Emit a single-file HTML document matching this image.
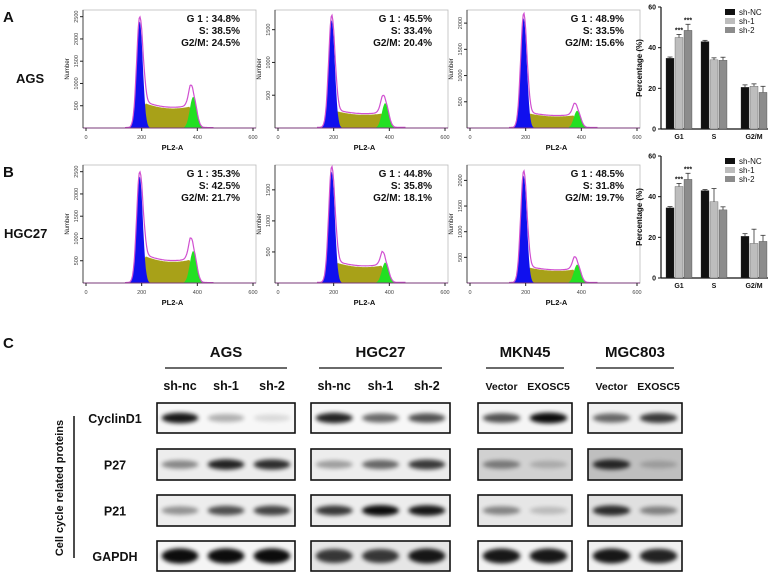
<!DOCTYPE html>
<html><head><meta charset="utf-8"><style>
body{margin:0;background:#fff}
svg{display:block;font-family:"Liberation Sans",Arial,sans-serif}
</style></head><body>
<svg id="fig" width="776" height="576" viewBox="0 0 776 576">
<defs>
<filter id="blur2" x="-50%" y="-100%" width="200%" height="300%"><feGaussianBlur stdDeviation="2.2"/></filter>
</defs>
<g id="root"></g>
</svg>
<script>
// ---------- data ----------
const flowRows = ["AGS","HGC27"];
const g1Pct = ["34.8%","45.5%","48.9%","35.3%","44.8%","48.5%"];
const sPct  = ["38.5%","33.4%","33.5%","42.5%","35.8%","31.8%"];
const g2Pct = ["24.5%","20.4%","15.6%","21.7%","18.1%","19.7%"];
const g1Peak = [2400,1650,2100,2400,1800,2100];
const sLevel = [480,220,240,520,280,260];
const g2Peak = [700,380,330,720,330,360];
const yMaxes = [2650,1800,2250,2650,1900,2300];
const yTickSets = [[500,1000,1500,2000,2500],[500,1000,1500],[500,1000,1500,2000],[500,1000,1500,2000,2500],[500,1000,1500],[500,1000,1500,2000]];
const xTicks = [0,200,400,600];

const barCats = ["G1","S","G2/M"];
const barSeries = ["sh-NC","sh-1","sh-2"];
const barColors = ["#111","#bdbdbd","#8c8c8c"];
const barA_NC = [34.8,43,20.5], barA_1 = [45,34,21], barA_2 = [48.5,33.8,18];
const errA_NC = [0.6,0.6,1.2], errA_1 = [1.5,1,1.2], errA_2 = [3,1.5,3];
const barB_NC = [34.5,43,20.5], barB_1 = [45,37.5,17], barB_2 = [48.5,33.5,18];
const errB_NC = [0.6,0.5,1.3], errB_1 = [1.5,6.5,7], errB_2 = [3,1.5,3];
const barTicks = [0,20,40,60];

const blotProteins = ["CyclinD1","P27","P21","GAPDH"];
const blotGroups = ["AGS","HGC27","MKN45","MGC803"];
const blotLanes = [["sh-nc","sh-1","sh-2"],["sh-nc","sh-1","sh-2"],["Vector","EXOSC5"],["Vector","EXOSC5"]];
const bandInt = [
 [[0.95,0.3,0.12],[0.45,0.9,0.85],[0.4,0.7,0.75],[1,1,1]],
 [[0.9,0.6,0.7],[0.35,0.6,0.8],[0.8,1,0.95],[0.8,0.8,0.95]],
 [[0.7,1],[0.45,0.2],[0.45,0.2],[0.95,0.95]],
 [[0.6,0.8],[0.85,0.2],[0.85,0.45],[0.95,0.9]]
];
const bgGray = [
 [0.97,0.93,0.93,0.96],
 [0.97,0.93,0.93,0.9],
 [0.96,0.82,0.9,0.95],
 [0.94,0.75,0.88,0.94]
];

// ---------- helpers ----------
const NS="http://www.w3.org/2000/svg";
const root=document.getElementById('root');
function el(tag,attrs,parent,text){const e=document.createElementNS(NS,tag);for(const k in attrs)e.setAttribute(k,attrs[k]);if(text!==undefined)e.textContent=text;(parent||root).appendChild(e);return e;}
function txt(x,y,s,size,opts,parent,name){const a=Object.assign({x:x,y:y,'font-size':size,fill:'#111'},opts||{});const t=el('text',a,parent,s);return t;}

txt(3,22,"A",15,{'font-weight':'bold'},null,'panel-label-a');
txt(3,177,"B",15,{'font-weight':'bold'},null,'panel-label-b');
txt(3,348,"C",15,{'font-weight':'bold'},null,'panel-label-c');
txt(16,83,"AGS",13,{'font-weight':'bold'},null,'row-label-ags');
txt(4,238,"HGC27",13,{'font-weight':'bold'},null,'row-label-hgc27');

// ---------- flow histograms ----------
function flowPanel(idx){
  const row=Math.floor(idx/3), col=idx%3;
  const x0=86+192*col, xw=167, top=row?165:10, yb=row?283:128;
  const g=el('g',{});
  
  
  const sx=v=>x0+v/600*xw, H=yb-top, sy=v=>yb-v/yMaxes[idx]*H;
  el('rect',{x:x0-3,y:top,width:xw+6,height:H,fill:'none',stroke:'#bbb','stroke-width':0.8},g);
  const G1=g1Peak[idx],S=sLevel[idx],G2=g2Peak[idx];
  const pts=[];
  for(let v=140;v<=460;v+=3){
    const b=G1*Math.exp(-Math.pow((v-193)/11,2)/2);
    let s=0; if(v>195&&v<388){const t=(v-195)/193; s=S*(1.25-1.1*t+0.9*t*t)*Math.min(1,(v-195)/18)*Math.min(1,(388-v)/15);}
    const gr=G2*Math.exp(-Math.pow((v-385)/12,2)/2);
    pts.push([v,b,s,gr]);
  }
  let d='M'+sx(195)+','+yb; pts.forEach(p=>{if(p[0]>=195&&p[0]<=390)d+=' L'+sx(p[0]).toFixed(1)+','+sy(p[2]).toFixed(1);}); d+=' L'+sx(390)+','+yb+'Z';
  el('path',{d:d,fill:'#a8a118',stroke:'none'},g);
  d='M'+sx(340)+','+yb; pts.forEach(p=>{if(p[0]>=340)d+=' L'+sx(p[0]).toFixed(1)+','+sy(p[3]).toFixed(1);}); d+=' L'+sx(460)+','+yb+'Z';
  el('path',{d:d,fill:'#22e022'},g);
  d='M'+sx(140)+','+yb; pts.forEach(p=>{if(p[0]<=240)d+=' L'+sx(p[0]).toFixed(1)+','+sy(p[1]).toFixed(1);}); d+=' L'+sx(240)+','+yb+'Z';
  el('path',{d:d,fill:'#1010ee'},g);
  d=''; pts.forEach((p,i)=>{d+=(i?' L':'M')+sx(p[0]).toFixed(1)+','+sy((p[1]+p[2]+p[3])*1.04+10).toFixed(1);});
  el('path',{d:d,fill:'none',stroke:'#d050d0','stroke-width':1.2},g);
  el('line',{x1:x0-3,y1:yb,x2:x0+xw+3,y2:yb,stroke:'#d050d0','stroke-width':1},g);
  el('line',{x1:x0-3,y1:top,x2:x0-3,y2:yb,stroke:'#222','stroke-width':0.8},g);
  el('line',{x1:x0-3,y1:yb,x2:x0+xw+3,y2:yb,stroke:'#222','stroke-width':0.6},g);
  xTicks.forEach(v=>{el('line',{x1:sx(v),y1:yb,x2:sx(v),y2:yb+3,stroke:'#222'},g);txt(sx(v),yb+11,String(v),5.5,{'text-anchor':'middle',fill:'#444'},g,'x-tick-label');});
  yTickSets[idx].forEach(v=>{el('line',{x1:x0-6,y1:sy(v),x2:x0-3,y2:sy(v),stroke:'#222'},g);txt(0,0,String(v),5.5,{'text-anchor':'middle',fill:'#444',transform:`translate(${x0-8},${sy(v)}) rotate(-90)`},g,'y-tick-label');});
  txt(0,0,"Number",6,{'text-anchor':'middle',transform:`translate(${x0-17},${(top+yb)/2}) rotate(-90)`},g,'y-axis-title');
  txt(x0+xw/2+3,yb+22,"PL2-A",7.5,{'text-anchor':'middle','font-weight':'bold'},g,'x-axis-title');
  const rx=x0+154;
  txt(rx,top+12,"G 1 : "+g1Pct[idx],10,{'text-anchor':'end','font-weight':'bold'},g,'g1-percentage');
  txt(rx,top+24,"S: "+sPct[idx],10,{'text-anchor':'end','font-weight':'bold'},g,'s-percentage');
  txt(rx,top+36,"G2/M:  "+g2Pct[idx],10,{'text-anchor':'end','font-weight':'bold'},g,'g2m-percentage');
}
for(let i=0;i<6;i++)flowPanel(i);

// ---------- bar charts ----------
function barChart(name,y0,y60,vals,errs){
  const g=el('g',{});
  
  
  const ax=661, sy=v=>y0-(v/60)*(y0-y60);
  const catX=[679,714,754], bw=8;
  el('line',{x1:ax,y1:y60,x2:ax,y2:y0,stroke:'#111','stroke-width':1.2},g);
  el('line',{x1:ax,y1:y0,x2:768,y2:y0,stroke:'#111','stroke-width':1.2},g);
  barTicks.forEach(v=>{el('line',{x1:ax-3,y1:sy(v),x2:ax,y2:sy(v),stroke:'#111'},g);txt(ax-5,sy(v)+2.5,String(v),7,{'text-anchor':'end','font-weight':'bold'},g,'y-tick-label');});
  txt(0,0,"Percentage (%)",8,{'text-anchor':'middle','font-weight':'bold',transform:`translate(${ax-19},${(y0+y60)/2}) rotate(-90)`},g,'y-axis-title');
  barCats.forEach((c,ci)=>{
    txt(catX[ci],y0+10,c,7,{'text-anchor':'middle','font-weight':'bold'},g,'x-tick-label');
    for(let s=0;s<3;s++){
      const v=vals[s][ci], e=errs[s][ci], bx=catX[ci]+(s-1.5)*bw+ (s-1)*1;
      const r=el('rect',{x:bx,y:sy(v),width:bw,height:y0-sy(v),fill:barColors[s],stroke:'#333','stroke-width':0.3},g);
      
      
      const cx=bx+bw/2;
      el('line',{x1:cx,y1:sy(v),x2:cx,y2:sy(v+e),stroke:'#333','stroke-width':0.8},g);
      el('line',{x1:cx-2.5,y1:sy(v+e),x2:cx+2.5,y2:sy(v+e),stroke:'#333','stroke-width':0.8},g);
      if(ci===0&&s>0)txt(cx,sy(v+e)-2,"***",7,{'text-anchor':'middle','font-weight':'bold'},g,'significance-marker');
    }
  });
  barSeries.forEach((s,i)=>{
    const ly=y60+2+i*9;
    const r=el('rect',{x:725,y:ly,width:10,height:6,fill:barColors[i]},g);
    
    
    txt(739,ly+6,s,8,{},g,'legend-entry');
  });
}
barChart('bar-chart-ags',129,7,[barA_NC,barA_1,barA_2],[errA_NC,errA_1,errA_2]);
barChart('bar-chart-hgc27',278,156,[barB_NC,barB_1,barB_2],[errB_NC,errB_1,errB_2]);

// ---------- western blots ----------
const boxX=[[157,295],[311,450],[478,572],[588,682]];
const rowY=[[403,433],[449,480],[495,526],[541,571]];
txt(0,0,"Cell cycle related proteins",11,{'text-anchor':'middle','font-weight':'bold',transform:'translate(63,488) rotate(-90)'},null,'vertical-bracket-label');
el('line',{x1:74,y1:416,x2:74,y2:558,stroke:'#111','stroke-width':1.5});
blotProteins.forEach((p,pi)=>txt(115,(rowY[pi][0]+rowY[pi][1])/2+5,p,12.5,{'text-anchor':'middle','font-weight':'bold'},null,'protein-label-'+p.toLowerCase()));
blotGroups.forEach((gname,gi)=>{
  const [x1,x2]=boxX[gi], cx=(x1+x2)/2, lanes=blotLanes[gi];
  txt(cx,357,gname,15,{'text-anchor':'middle','font-weight':'bold'},null,'group-title-'+gname.toLowerCase());
  el('line',{x1:x1+8,y1:368,x2:x2-8,y2:368,stroke:'#111','stroke-width':1.3});
  const lw=(x2-x1)/lanes.length;
  lanes.forEach((l,li)=>txt(x1+lw*(li+0.5),390,l,lanes.length===3?12.5:10.5,{'text-anchor':'middle','font-weight':'bold'},null,'lane-label'));
  blotProteins.forEach((p,pi)=>{
    const [y1,y2]=rowY[pi];
    const g=el('g',{});
    
    
    const bg=Math.round(bgGray[gi][pi]*255);
    el('rect',{x:x1,y:y1,width:x2-x1,height:y2-y1,fill:`rgb(${bg},${bg},${bg})`},g);
    lanes.forEach((l,li)=>{
      const a=bandInt[gi][pi][li];
      const h=(pi===3?12:8)*(0.6+0.5*a);
      el('ellipse',{cx:x1+lw*(li+0.5),cy:(y1+y2)/2,rx:lw*0.4,ry:h/2+1,fill:'#000',opacity:Math.min(1,a*0.95),filter:'url(#blur2)'},g);
    });
    el('rect',{x:x1,y:y1,width:x2-x1,height:y2-y1,fill:'none',stroke:'#111','stroke-width':1.6},g);
  });
});
</script>
</body></html>
